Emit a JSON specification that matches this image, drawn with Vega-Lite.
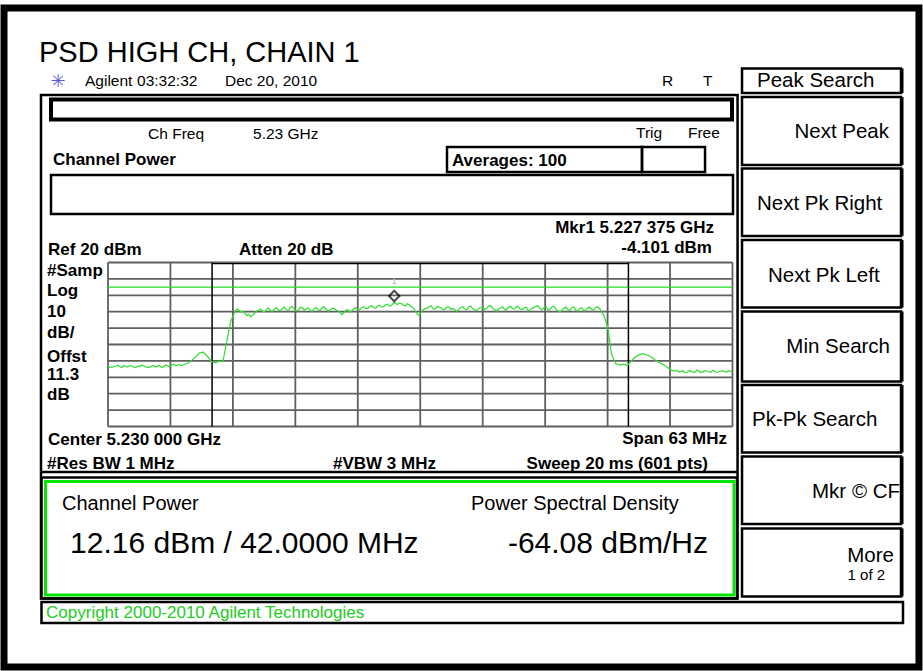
{
"$schema":"https://vega.github.io/schema/vega-lite/v6.json",
"width":923,"height":671,"autosize":{"type":"none"},"padding":0,"background":"#ffffff",
"config":{"view":{"stroke":null}},
"encoding":{
 "x":{"field":"f","type":"quantitative","axis":null,"scale":{"domain":[5.1985,5.2615],"range":[108,732.5],"nice":false,"zero":false}},
 "y":{"field":"p","type":"quantitative","axis":null,"scale":{"domain":[-80,20],"range":[426.5,262.5],"nice":false,"zero":false}}
},
"datasets":{
 "outer":[{"f":5.18801,"f2":5.28031,"p":175.18,"p2":-226.65}],
 "boxes":[
  {"f":5.19174,"f2":5.26201,"p":122.13,"p2":-184.88},
  {"f":5.19275,"f2":5.26155,"p":73.35,"p2":49.57},
  {"f":5.19179,"f2":5.26195,"p":-111.10,"p2":-184.88},
  {"f":5.19179,"f2":5.2787,"p":-187.01,"p2":-199.82},
  {"f":5.26246,"f2":5.2785,"p":138.29,"p2":123.35},
  {"f":5.26246,"f2":5.2785,"p":120.91,"p2":79.45},
  {"f":5.26246,"f2":5.2785,"p":77.32,"p2":36.16},
  {"f":5.26246,"f2":5.2785,"p":33.72,"p2":-7.44},
  {"f":5.26246,"f2":5.2785,"p":-9.88,"p2":-52.56},
  {"f":5.26246,"f2":5.2785,"p":-54.70,"p2":-95.85},
  {"f":5.26246,"f2":5.2785,"p":-98.29,"p2":-139.45},
  {"f":5.26246,"f2":5.2785,"p":-142.20,"p2":-183.66}
 ],
 "keyShadow":[
  {"f":5.2785,"p":138.29,"p2":123.35},{"f":5.2785,"p":120.91,"p2":79.45},{"f":5.2785,"p":77.32,"p2":36.16},
  {"f":5.2785,"p":33.72,"p2":-7.44},{"f":5.2785,"p":-9.88,"p2":-52.56},{"f":5.2785,"p":-54.70,"p2":-95.85},
  {"f":5.2785,"p":-98.29,"p2":-139.45},{"f":5.2785,"p":-142.20,"p2":-183.66}
 ],
 "thick":[{"f":5.19275,"f2":5.26145,"p":119.39,"p2":107.20}],
 "avg":[
  {"f":5.2327,"f2":5.25237,"p":90.43,"p2":75.18},
  {"f":5.25237,"f2":5.25873,"p":90.43,"p2":75.18}
 ],
 "green":[{"f":5.1922,"f2":5.26165,"p":-113.54,"p2":-182.74}],
 "hlines":[{"f":5.19174,"f2":5.26201,"p":-107.74}],
 "vgrid":[
  {"f":5.1985,"p":-80,"p2":20},{"f":5.2048,"p":-80,"p2":20},{"f":5.2111,"p":-80,"p2":20},{"f":5.2174,"p":-80,"p2":20},
  {"f":5.2237,"p":-80,"p2":20},{"f":5.23,"p":-80,"p2":20},{"f":5.2363,"p":-80,"p2":20},{"f":5.2426,"p":-80,"p2":20},
  {"f":5.2489,"p":-80,"p2":20},{"f":5.2552,"p":-80,"p2":20},{"f":5.2615,"p":-80,"p2":20}
 ],
 "hgrid":[
  {"f":5.1985,"f2":5.2615,"p":20},{"f":5.1985,"f2":5.2615,"p":10},{"f":5.1985,"f2":5.2615,"p":0},
  {"f":5.1985,"f2":5.2615,"p":-10},{"f":5.1985,"f2":5.2615,"p":-20},{"f":5.1985,"f2":5.2615,"p":-30},
  {"f":5.1985,"f2":5.2615,"p":-40},{"f":5.1985,"f2":5.2615,"p":-50},{"f":5.1985,"f2":5.2615,"p":-60},
  {"f":5.1985,"f2":5.2615,"p":-70},{"f":5.1985,"f2":5.2615,"p":-80}
 ],
 "ibw":[{"f":5.209,"p":-80,"p2":20},{"f":5.251,"p":-80,"p2":20}],
 "ibwTop":[{"f":5.209,"f2":5.251,"p":19.3}],
 "display":[{"f":5.1985,"f2":5.2615,"p":5}],
 "marker":[{"f":5.227375,"p":-4.101}],
 "trace":[
  {"f":5.1985,"p":-43.2},{"f":5.1989,"p":-44.0},{"f":5.1993,"p":-43.1},{"f":5.1997,"p":-43.6},{"f":5.2001,"p":-42.9},
  {"f":5.2005,"p":-43.8},{"f":5.2009,"p":-43.3},{"f":5.2013,"p":-44.1},{"f":5.2017,"p":-43.4},{"f":5.2021,"p":-43.0},
  {"f":5.2025,"p":-43.9},{"f":5.2029,"p":-43.2},{"f":5.2033,"p":-43.7},{"f":5.2037,"p":-42.8},{"f":5.2041,"p":-43.5},
  {"f":5.2045,"p":-43.0},{"f":5.2049,"p":-42.6},{"f":5.2053,"p":-42.9},{"f":5.2057,"p":-42.2},{"f":5.2061,"p":-42.5},
  {"f":5.2065,"p":-41.6},{"f":5.2069,"p":-40.0},{"f":5.2073,"p":-37.8},{"f":5.2077,"p":-35.2},{"f":5.2081,"p":-34.6},
  {"f":5.2085,"p":-37.0},{"f":5.2089,"p":-40.2},{"f":5.2093,"p":-41.0},{"f":5.2097,"p":-40.3},{"f":5.2101,"p":-40.2},
  {"f":5.2105,"p":-27.5},{"f":5.2109,"p":-15.5},{"f":5.2113,"p":-10.0},{"f":5.2117,"p":-9.0},{"f":5.2121,"p":-9.6},
  {"f":5.2125,"p":-12.4},{"f":5.2129,"p":-13.2},{"f":5.2133,"p":-10.8},{"f":5.2137,"p":-9.2},{"f":5.2141,"p":-9.8},
  {"f":5.2145,"p":-8.6},{"f":5.2149,"p":-9.4},{"f":5.2153,"p":-8.2},{"f":5.2157,"p":-9.0},{"f":5.2161,"p":-7.8},
  {"f":5.2165,"p":-8.8},{"f":5.2169,"p":-7.2},{"f":5.2173,"p":-8.4},{"f":5.2177,"p":-9.1},{"f":5.2181,"p":-7.6},
  {"f":5.2185,"p":-8.3},{"f":5.2189,"p":-9.4},{"f":5.2193,"p":-8.0},{"f":5.2197,"p":-8.9},{"f":5.2201,"p":-7.5},
  {"f":5.2205,"p":-8.6},{"f":5.2209,"p":-9.3},{"f":5.2213,"p":-8.1},{"f":5.2217,"p":-9.6},{"f":5.2221,"p":-11.8},
  {"f":5.2225,"p":-9.0},{"f":5.2229,"p":-10.4},{"f":5.2233,"p":-8.2},{"f":5.2237,"p":-8.8},{"f":5.2241,"p":-7.4},
  {"f":5.2245,"p":-8.0},{"f":5.2249,"p":-6.8},{"f":5.2253,"p":-7.6},{"f":5.2257,"p":-6.4},{"f":5.2261,"p":-7.2},
  {"f":5.2265,"p":-5.8},{"f":5.2269,"p":-6.6},{"f":5.22738,"p":-4.1},{"f":5.2277,"p":-5.6},{"f":5.2281,"p":-5.0},
  {"f":5.2285,"p":-6.4},{"f":5.2289,"p":-5.8},{"f":5.2293,"p":-7.6},{"f":5.2297,"p":-11.4},{"f":5.2301,"p":-10.2},
  {"f":5.2305,"p":-8.0},{"f":5.2309,"p":-7.0},{"f":5.2313,"p":-8.2},{"f":5.2317,"p":-6.8},{"f":5.2321,"p":-7.6},
  {"f":5.2325,"p":-8.6},{"f":5.2329,"p":-7.2},{"f":5.2333,"p":-8.0},{"f":5.2337,"p":-9.8},{"f":5.2341,"p":-7.4},
  {"f":5.2345,"p":-8.4},{"f":5.2349,"p":-7.0},{"f":5.2353,"p":-8.2},{"f":5.2357,"p":-9.2},{"f":5.2361,"p":-7.6},
  {"f":5.2365,"p":-8.8},{"f":5.2369,"p":-6.6},{"f":5.2373,"p":-8.0},{"f":5.2377,"p":-9.6},{"f":5.2381,"p":-7.8},
  {"f":5.2385,"p":-8.6},{"f":5.2389,"p":-7.2},{"f":5.2393,"p":-8.0},{"f":5.2397,"p":-6.8},{"f":5.2401,"p":-8.4},
  {"f":5.2405,"p":-7.6},{"f":5.2409,"p":-9.4},{"f":5.2413,"p":-7.8},{"f":5.2417,"p":-6.6},{"f":5.2421,"p":-8.2},
  {"f":5.2425,"p":-7.4},{"f":5.2429,"p":-9.0},{"f":5.2433,"p":-7.0},{"f":5.2437,"p":-8.6},{"f":5.2441,"p":-10.0},
  {"f":5.2445,"p":-7.8},{"f":5.2449,"p":-8.8},{"f":5.2453,"p":-7.4},{"f":5.2457,"p":-9.2},{"f":5.2461,"p":-8.0},
  {"f":5.2465,"p":-9.6},{"f":5.2469,"p":-7.8},{"f":5.2473,"p":-8.6},{"f":5.2477,"p":-7.4},{"f":5.2481,"p":-8.2},
  {"f":5.2485,"p":-12.0},{"f":5.2489,"p":-19.0},{"f":5.2493,"p":-36.0},{"f":5.2497,"p":-41.6},{"f":5.2501,"p":-42.6},
  {"f":5.2505,"p":-42.0},{"f":5.2509,"p":-42.8},{"f":5.2513,"p":-40.0},{"f":5.2517,"p":-37.6},{"f":5.2521,"p":-36.2},
  {"f":5.2525,"p":-35.6},{"f":5.2529,"p":-36.4},{"f":5.2533,"p":-37.6},{"f":5.2537,"p":-39.4},{"f":5.2541,"p":-41.0},
  {"f":5.2545,"p":-42.2},{"f":5.2549,"p":-43.8},{"f":5.2553,"p":-45.6},{"f":5.2557,"p":-46.2},{"f":5.2561,"p":-46.8},
  {"f":5.2565,"p":-46.0},{"f":5.2569,"p":-46.9},{"f":5.2573,"p":-46.4},{"f":5.2577,"p":-47.0},{"f":5.2581,"p":-46.1},
  {"f":5.2585,"p":-46.7},{"f":5.2589,"p":-46.3},{"f":5.2593,"p":-46.9},{"f":5.2597,"p":-46.2},{"f":5.2601,"p":-46.6},
  {"f":5.2605,"p":-46.0},{"f":5.2609,"p":-46.8},{"f":5.2613,"p":-46.4},{"f":5.2615,"p":-46.7},
  {"f":5.1987,"p":-43.8},{"f":5.1991,"p":-43.4},{"f":5.1995,"p":-42.6},{"f":5.1999,"p":-44.0},{"f":5.2003,"p":-43.3},
  {"f":5.2007,"p":-42.8},{"f":5.2011,"p":-43.9},{"f":5.2015,"p":-43.0},{"f":5.2019,"p":-42.6},{"f":5.2023,"p":-43.6},
  {"f":5.2027,"p":-44.0},{"f":5.2031,"p":-42.9},{"f":5.2035,"p":-43.2},{"f":5.2039,"p":-44.0},{"f":5.2043,"p":-42.6},
  {"f":5.2047,"p":-43.4},{"f":5.2051,"p":-42.1},{"f":5.2055,"p":-42.6},{"f":5.2059,"p":-42.9},{"f":5.2063,"p":-41.9},
  {"f":5.2115,"p":-8.4},{"f":5.2119,"p":-10.2},{"f":5.2123,"p":-10.8},{"f":5.2127,"p":-11.6},{"f":5.2131,"p":-12.0},
  {"f":5.2135,"p":-9.6},{"f":5.2139,"p":-8.4},{"f":5.2143,"p":-9.9},{"f":5.2147,"p":-7.8},{"f":5.2151,"p":-9.8},
  {"f":5.2155,"p":-7.6},{"f":5.2159,"p":-9.6},{"f":5.2163,"p":-7.1},{"f":5.2167,"p":-9.4},{"f":5.2171,"p":-6.9},
  {"f":5.2175,"p":-9.5},{"f":5.2179,"p":-7.2},{"f":5.2183,"p":-8.9},{"f":5.2187,"p":-7.6},{"f":5.2191,"p":-9.8},
  {"f":5.2195,"p":-7.4},{"f":5.2199,"p":-9.2},{"f":5.2203,"p":-7.0},{"f":5.2207,"p":-9.6},{"f":5.2211,"p":-7.8},
  {"f":5.2215,"p":-9.0},{"f":5.2219,"p":-10.4},{"f":5.2223,"p":-10.6},{"f":5.2227,"p":-8.8},{"f":5.2231,"p":-9.4},
  {"f":5.2235,"p":-7.6},{"f":5.2239,"p":-8.9},{"f":5.2243,"p":-6.9},{"f":5.2247,"p":-8.0},{"f":5.2251,"p":-6.4},
  {"f":5.2255,"p":-7.9},{"f":5.2259,"p":-6.0},{"f":5.2263,"p":-7.0},{"f":5.2267,"p":-5.4},{"f":5.2271,"p":-6.2},
  {"f":5.2275,"p":-5.0},{"f":5.2279,"p":-4.6},{"f":5.2283,"p":-6.0},{"f":5.2287,"p":-5.2},{"f":5.2291,"p":-7.0},
  {"f":5.2295,"p":-9.6},{"f":5.2299,"p":-12.2},{"f":5.2303,"p":-8.8},{"f":5.2307,"p":-7.8},{"f":5.2311,"p":-6.4},
  {"f":5.2315,"p":-8.6},{"f":5.2319,"p":-7.2},{"f":5.2323,"p":-8.8},{"f":5.2327,"p":-7.0},{"f":5.2331,"p":-8.6},
  {"f":5.2335,"p":-8.8},{"f":5.2339,"p":-8.6},{"f":5.2343,"p":-7.0},{"f":5.2347,"p":-8.8},{"f":5.2351,"p":-6.6},
  {"f":5.2355,"p":-8.8},{"f":5.2359,"p":-8.0},{"f":5.2363,"p":-7.4},{"f":5.2367,"p":-8.0},{"f":5.2371,"p":-6.2},
  {"f":5.2375,"p":-8.8},{"f":5.2379,"p":-8.4},{"f":5.2383,"p":-7.0},{"f":5.2387,"p":-8.8},{"f":5.2391,"p":-6.8},
  {"f":5.2395,"p":-8.4},{"f":5.2399,"p":-7.0},{"f":5.2403,"p":-8.6},{"f":5.2407,"p":-7.2},{"f":5.2411,"p":-9.0},
  {"f":5.2415,"p":-7.4},{"f":5.2419,"p":-6.4},{"f":5.2423,"p":-8.8},{"f":5.2427,"p":-7.0},{"f":5.2431,"p":-8.6},
  {"f":5.2435,"p":-6.6},{"f":5.2439,"p":-9.4},{"f":5.2443,"p":-9.0},{"f":5.2447,"p":-7.2},{"f":5.2451,"p":-9.2},
  {"f":5.2455,"p":-7.0},{"f":5.2459,"p":-9.6},{"f":5.2463,"p":-7.6},{"f":5.2467,"p":-9.0},{"f":5.2471,"p":-7.2},
  {"f":5.2475,"p":-9.0},{"f":5.2479,"p":-7.0},
  {"f":5.2559,"p":-45.8},{"f":5.2563,"p":-46.4},{"f":5.2567,"p":-47.2},{"f":5.2571,"p":-45.9},{"f":5.2575,"p":-46.8},
  {"f":5.2579,"p":-45.7},{"f":5.2583,"p":-47.1},{"f":5.2587,"p":-46.0},{"f":5.2591,"p":-46.6},{"f":5.2595,"p":-45.8},
  {"f":5.2599,"p":-47.0},{"f":5.2603,"p":-46.3},{"f":5.2607,"p":-46.5},{"f":5.2611,"p":-45.9}
 ],
 "title":[{"f":5.19154,"p":142.26,"t":"PSD HIGH CH, CHAIN 1"}],
 "logo":[{"f":5.19346,"p":127.01,"t":"✳"}],
 "hdr":[
  {"f":5.19618,"p":127.62,"t":"Agilent"},{"f":5.20143,"p":127.62,"t":"03:32:32"},{"f":5.2103,"p":127.62,"t":"Dec 20, 2010"},
  {"f":5.25439,"p":127.62,"t":"R"},{"f":5.25852,"p":127.62,"t":"T"},
  {"f":5.20254,"p":95.30,"t":"Ch Freq"},{"f":5.21313,"p":95.30,"t":"5.23 GHz"},
  {"f":5.25177,"p":95.91,"t":"Trig"},{"f":5.25701,"p":95.91,"t":"Free"}
 ],
 "boldL":[
  {"f":5.19295,"p":79.45,"t":"Channel Power"},{"f":5.2332,"p":78.84,"t":"Averages: 100"},
  {"f":5.19245,"p":24.57,"t":"Ref 20 dBm"},{"f":5.21172,"p":24.57,"t":"Atten 20 dB"},
  {"f":5.19235,"p":11.8,"t":"#Samp"},{"f":5.19235,"p":-0.43,"t":"Log"},{"f":5.19235,"p":-13.23,"t":"10"},
  {"f":5.19235,"p":-26.04,"t":"dB/"},{"f":5.19235,"p":-40.67,"t":"Offst"},{"f":5.19235,"p":-51.65,"t":"11.3"},
  {"f":5.19235,"p":-63.84,"t":"dB"},
  {"f":5.19245,"p":-91.28,"t":"Center 5.230 000 GHz"},{"f":5.19235,"p":-105.91,"t":"#Res BW 1 MHz"},
  {"f":5.2212,"p":-105.91,"t":"#VBW 3 MHz"}
 ],
 "boldR":[
  {"f":5.25963,"p":37.99,"t":"Mkr1  5.227 375 GHz"},{"f":5.25943,"p":25.79,"t":"-4.101 dBm"},
  {"f":5.26095,"p":-90.67,"t":"Span 63 MHz"},{"f":5.25903,"p":-105.91,"t":"Sweep 20 ms (601 pts)"}
 ],
 "resLab":[{"f":5.19386,"p":-130.91,"t":"Channel Power"},{"f":5.23512,"p":-130.91,"t":"Power Spectral Density"}],
 "resValL":[{"f":5.19467,"p":-157.13,"t":"12.16 dBm  / 42.0000 MHz"}],
 "resValR":[{"f":5.25903,"p":-157.13,"t":"-64.08 dBm/Hz"}],
 "keysL":[
  {"f":5.26397,"p":127.01,"t":"Peak Search"},{"f":5.26397,"p":52.01,"t":"Next Pk Right"},
  {"f":5.26508,"p":8.11,"t":"Next Pk Left"},{"f":5.26347,"p":-79.70,"t":"Pk-Pk Search"}
 ],
 "keysR":[
  {"f":5.27729,"p":95.91,"t":"Next Peak"},{"f":5.27739,"p":-35.18,"t":"Min Search"},
  {"f":5.2784,"p":-123.60,"t":"Mkr © CF"},{"f":5.27779,"p":-162.62,"t":"More"}
 ],
 "keysSmall":[{"f":5.27689,"p":-173.60,"t":"1 of 2"}],
 "copy":[{"f":5.19225,"p":-196.77,"t":"Copyright 2000-2010 Agilent Technologies"}],
 "mkrLab":[{"f":5.22737,"p":6.89,"t":"1"}]
},
"layer":[
 {"data":{"name":"outer"},"mark":{"type":"rect","fillOpacity":0,"stroke":"#000000","strokeWidth":7},"encoding":{"x2":{"field":"f2"},"y2":{"field":"p2"}}},
 {"data":{"name":"boxes"},"mark":{"type":"rect","fillOpacity":0,"stroke":"#000000","strokeWidth":2.5},"encoding":{"x2":{"field":"f2"},"y2":{"field":"p2"}}},
 {"data":{"name":"keyShadow"},"mark":{"type":"rule","stroke":"#000000","strokeWidth":2,"xOffset":1.5},"encoding":{"y2":{"field":"p2"}}},
 {"data":{"name":"thick"},"mark":{"type":"rect","fillOpacity":0,"stroke":"#000000","strokeWidth":4},"encoding":{"x2":{"field":"f2"},"y2":{"field":"p2"}}},
 {"data":{"name":"avg"},"mark":{"type":"rect","fillOpacity":0,"stroke":"#000000","strokeWidth":2.5},"encoding":{"x2":{"field":"f2"},"y2":{"field":"p2"}}},
 {"data":{"name":"green"},"mark":{"type":"rect","fillOpacity":0,"stroke":"#00e600","strokeWidth":3},"encoding":{"x2":{"field":"f2"},"y2":{"field":"p2"}}},
 {"data":{"name":"hlines"},"mark":{"type":"rule","stroke":"#000000","strokeWidth":2.5},"encoding":{"x2":{"field":"f2"}}},
 {"data":{"name":"vgrid"},"mark":{"type":"rule","stroke":"#5f5f5f","strokeWidth":1.8},"encoding":{"y2":{"field":"p2"}}},
 {"data":{"name":"hgrid"},"mark":{"type":"rule","stroke":"#5f5f5f","strokeWidth":1.8},"encoding":{"x2":{"field":"f2"}}},
 {"data":{"name":"display"},"mark":{"type":"rule","stroke":"#22dd22","strokeWidth":1.3},"encoding":{"x2":{"field":"f2"}}},
 {"data":{"name":"ibw"},"mark":{"type":"rule","stroke":"#000000","strokeWidth":1.5},"encoding":{"y2":{"field":"p2"}}},
 {"data":{"name":"ibwTop"},"mark":{"type":"rule","stroke":"#000000","strokeWidth":1.2},"encoding":{"x2":{"field":"f2"}}},
 {"data":{"name":"trace"},"mark":{"type":"line","stroke":"#2fdc2f","strokeWidth":1.2},"encoding":{}},
 {"data":{"name":"marker"},"mark":{"type":"point","shape":"diamond","size":110,"filled":false,"stroke":"#000000","strokeWidth":2,"yOffset":-6},"encoding":{}},
 {"data":{"name":"title"},"mark":{"type":"text","align":"left","baseline":"alphabetic","font":"Liberation Sans","fontSize":29,"color":"#000000"},"encoding":{"text":{"field":"t"}}},
 {"data":{"name":"logo"},"mark":{"type":"text","align":"center","baseline":"alphabetic","font":"DejaVu Sans","fontSize":18,"color":"#5a5ae0"},"encoding":{"text":{"field":"t"}}},
 {"data":{"name":"hdr"},"mark":{"type":"text","align":"left","baseline":"alphabetic","font":"Liberation Sans","fontSize":15.5,"color":"#000000"},"encoding":{"text":{"field":"t"}}},
 {"data":{"name":"boldL"},"mark":{"type":"text","align":"left","baseline":"alphabetic","font":"Liberation Sans","fontWeight":"bold","fontSize":17,"color":"#000000"},"encoding":{"text":{"field":"t"}}},
 {"data":{"name":"boldR"},"mark":{"type":"text","align":"right","baseline":"alphabetic","font":"Liberation Sans","fontWeight":"bold","fontSize":17,"color":"#000000"},"encoding":{"text":{"field":"t"}}},
 {"data":{"name":"resLab"},"mark":{"type":"text","align":"left","baseline":"alphabetic","font":"Liberation Sans","fontSize":20,"color":"#000000"},"encoding":{"text":{"field":"t"}}},
 {"data":{"name":"resValL"},"mark":{"type":"text","align":"left","baseline":"alphabetic","font":"Liberation Sans","fontSize":30,"color":"#000000"},"encoding":{"text":{"field":"t"}}},
 {"data":{"name":"resValR"},"mark":{"type":"text","align":"right","baseline":"alphabetic","font":"Liberation Sans","fontSize":30,"color":"#000000"},"encoding":{"text":{"field":"t"}}},
 {"data":{"name":"keysL"},"mark":{"type":"text","align":"left","baseline":"alphabetic","font":"Liberation Sans","fontSize":20.5,"color":"#000000"},"encoding":{"text":{"field":"t"}}},
 {"data":{"name":"keysR"},"mark":{"type":"text","align":"right","baseline":"alphabetic","font":"Liberation Sans","fontSize":20.5,"color":"#000000"},"encoding":{"text":{"field":"t"}}},
 {"data":{"name":"keysSmall"},"mark":{"type":"text","align":"right","baseline":"alphabetic","font":"Liberation Sans","fontSize":15,"color":"#000000"},"encoding":{"text":{"field":"t"}}},
 {"data":{"name":"copy"},"mark":{"type":"text","align":"left","baseline":"alphabetic","font":"Liberation Sans","fontSize":17,"color":"#22cc22"},"encoding":{"text":{"field":"t"}}},
 {"data":{"name":"mkrLab"},"mark":{"type":"text","align":"center","baseline":"alphabetic","font":"Liberation Sans","fontSize":9,"color":"#b0b0b0"},"encoding":{"text":{"field":"t"}}}
]
}
